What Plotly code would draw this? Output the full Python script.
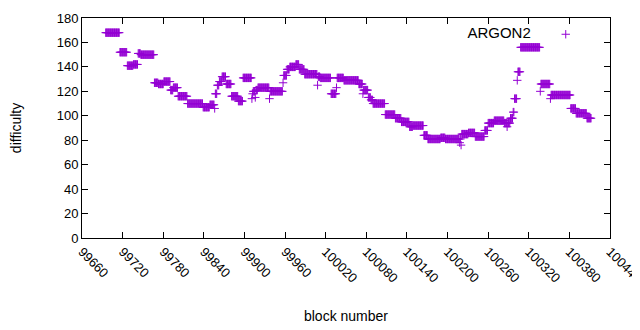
import numpy as np
import plotly.graph_objects as go

# Runs of constant difficulty: each run starts at run_start and lasts until the next start
run_start = [99695, 99716, 99727, 99736, 99743, 99747, 99767, 99773, 99781, 99791,
             99795, 99802, 99816, 99839, 99849, 99856, 99857, 99860, 99863, 99867,
             99873, 99881, 99891, 99898, 99911, 99912, 99913, 99916, 99917, 99920,
             99937, 99938, 99957, 99958, 99963, 99967, 99976, 99981, 99989, 100008,
             100009, 100012, 100028, 100036, 100037, 100047, 100069, 100075, 100076, 100083,
             100087, 100090, 100108, 100123, 100132, 100144, 100149, 100165, 100171, 100190,
             100197, 100218, 100219, 100220, 100221, 100231, 100241, 100255, 100260, 100269,
             100284, 100288, 100289, 100293, 100297, 100299, 100303, 100304, 100308, 100337,
             100338, 100352, 100353, 100382, 100390, 100406]
run_value = [168, 152, 141, 142, 151, 150, 127, 126, 128, 121,
             123, 116, 110, 107, 109, 106, 118, 125, 128, 132,
             126, 116, 112, 131, 114, 118, 120, 115, 121, 123,
             114, 120, 127, 133, 138, 140, 142, 138, 134, 125,
             132, 131, 118, 123, 131, 129, 126, 118, 121, 115,
             113, 110, 101, 98, 95, 91, 92, 84, 81, 82,
             81, 78, 81, 76, 85, 86, 83, 88, 94, 96,
             94, 91, 94, 98, 103, 114, 129, 136, 156, 120,
             126, 114, 117, 106, 102, 98]
last_block = 100412

x_ticks = [99660, 99720, 99780, 99840, 99900, 99960, 100020, 100080,
           100140, 100200, 100260, 100320, 100380, 100440]
y_ticks = [0, 20, 40, 60, 80, 100, 120, 140, 160, 180]

blocks, diffs = [], []
ends = run_start[1:] + [last_block + 1]
for s, e, v in zip(run_start, ends, run_value):
    for b in range(s, e):
        blocks.append(b)
        diffs.append(v)

color = "#9400D3"
fig = go.Figure()
fig.add_trace(go.Scatter(
    x=blocks, y=diffs, mode="markers", name="",
    marker=dict(symbol="cross-thin", size=6, color=color,
                line=dict(color=color, width=1)),
    showlegend=True,
))

font = "Liberation Sans, Arial, sans-serif"
axis_common = dict(showline=True, linecolor="black", linewidth=1, mirror="allticks",
                   ticks="inside", ticklen=6, tickcolor="black", showgrid=False,
                   zeroline=False, automargin=False,
                   tickfont=dict(family=font, size=13, color="black"))
fig.update_layout(
    width=640, height=330,
    margin=dict(l=74, r=38, t=10, b=100),
    plot_bgcolor="white", paper_bgcolor="white",
    font=dict(family=font, size=13, color="black"),
    xaxis=dict(range=[99660, 100440], tickvals=x_ticks,
               ticktext=[str(t) for t in x_ticks], tickangle=45,
               title=dict(text="block number", font=dict(size=14), standoff=26),
               **axis_common),
    yaxis=dict(range=[0, 180], tickvals=y_ticks,
               title=dict(text="difficulty", font=dict(size=14), standoff=32),
               **axis_common),
    legend=dict(x=0.978, y=1.0, xanchor="right", yanchor="top",
                bgcolor="rgba(0,0,0,0)", borderwidth=0,
                title=dict(text="ARGON2", side="left", font=dict(size=15)),
                font=dict(size=15), itemwidth=44),
    showlegend=True,
)
fig.write_html("out.html")
